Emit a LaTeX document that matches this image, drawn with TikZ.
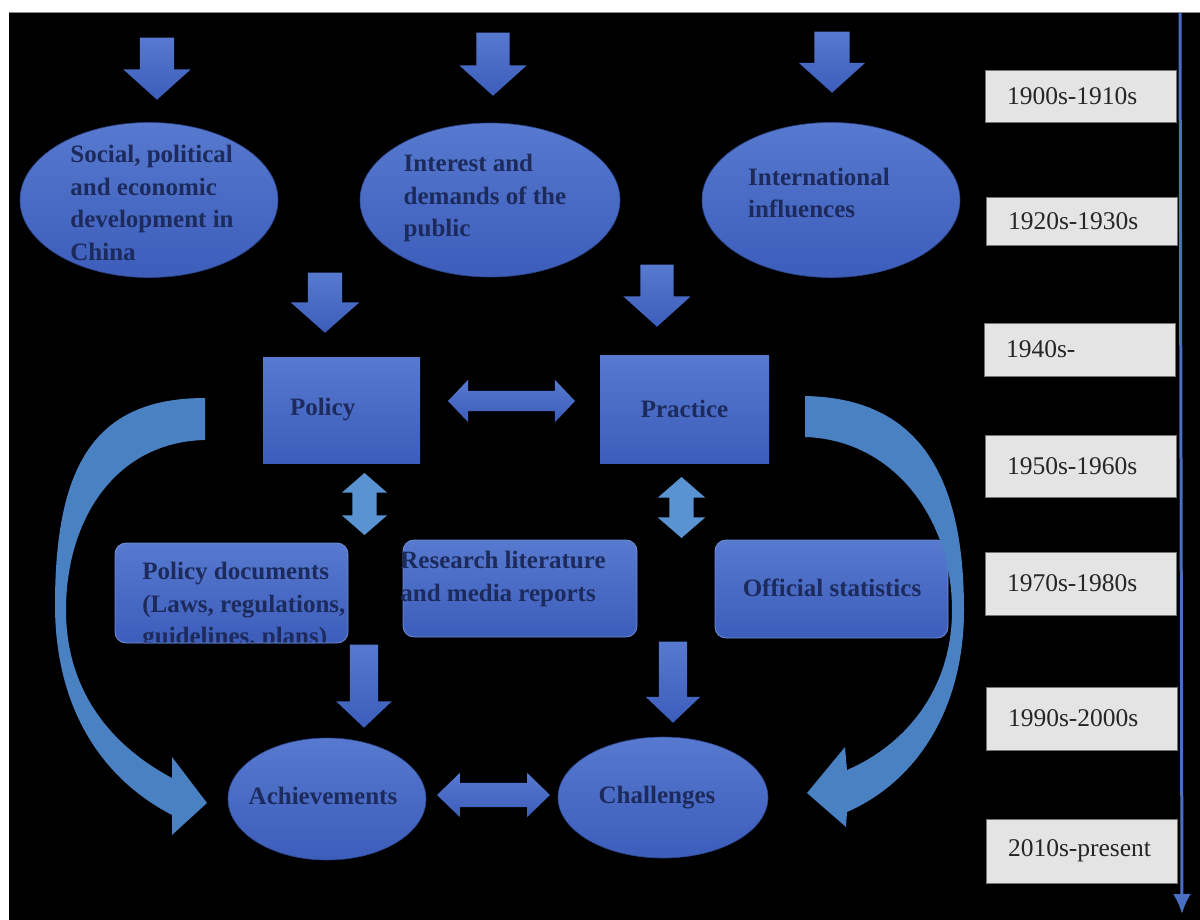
\documentclass[tikz,border=0pt]{standalone}
\usepackage{fontspec}
\setmainfont{Liberation Serif}
\usetikzlibrary{shapes.geometric,shapes.arrows,arrows.meta}

\definecolor{ink}{HTML}{1C2A5C}
\definecolor{bluetop}{HTML}{5779CF}
\definecolor{bluebot}{HTML}{3C5DBA}
\definecolor{steel}{HTML}{4A81C3}
\definecolor{pale}{HTML}{5A93D2}
\definecolor{datefill}{HTML}{E4E4E4}
\definecolor{datetext}{HTML}{262626}
\definecolor{timeline}{HTML}{4A6FC2}

\tikzset{
  shade blue/.style={top color=bluetop, bottom color=bluebot},
  oval/.style={ellipse, shade blue, draw=bluebot!75!black, line width=0.6pt, inner sep=0pt},
  panel/.style={rectangle, shade blue, inner sep=0pt},
  roundbox/.style={rectangle, rounded corners=11pt, shade blue, draw=bluetop!85!white, line width=0.8pt, inner sep=0pt},
  words/.style={font=\fontsize{25}{32.5}\selectfont\bfseries, text=ink, align=left, inner sep=0pt},
  era/.style={rectangle, fill=datefill, draw=black!55, line width=0.8pt, text width=147pt,
    inner xsep=22pt, inner ysep=0pt, align=left, font=\fontsize{25.5}{30}\selectfont, text=datetext},
  % downward block arrow: length, shaft width, head width, tip angle
  downblock/.style n args={4}{single arrow, shape border rotate=270, shade blue, anchor=tip,
    inner sep={#2/2}, single arrow head extend={(#3-#2)/2}, minimum width={#3},
    minimum height={#1}, single arrow tip angle={#4}},
  % two-headed block arrow: length, shaft width, head width, tip angle
  twoway/.style n args={4}{double arrow, inner sep={#2/2}, double arrow head extend={(#3-#2)/2},
    minimum width={#3}, minimum height={#1}, double arrow tip angle={#4}},
}

\begin{document}
\begin{tikzpicture}[x=1pt,y=-1pt]
\useasboundingbox (0,0) rectangle (1200,920);
\fill[white] (0,0) rectangle (1200,920);
\fill[black] (9,13) rectangle (1200,920);
\draw[black!45, line width=1pt] (9,13) -- (1200,13);

% incoming influences
\node[downblock={62}{34}{67}{96}] (in1) at (157,100) {};
\node[downblock={63}{33}{67}{96}] (in2) at (493,96) {};
\node[downblock={61}{35}{66}{96}] (in3) at (832,93) {};

\node[oval, minimum width=258pt, minimum height=155pt] (social) at (149,200) {};
\node[words] (socialtxt) at (152,203) {Social, political\\and economic\\development in\\China};
\node[oval, minimum width=260pt, minimum height=154pt] (public) at (490,200) {};
\node[words] (publictxt) at (485,198) {Interest and\\demands of the\\public};
\node[oval, minimum width=258pt, minimum height=155pt] (intl) at (831,200) {};
\node[words] (intltxt) at (819,193) {International\\influences};

% policy and practice
\node[downblock={60}{34}{68}{97}] (toPolicy) at (325,333) {};
\node[downblock={62}{33}{67}{96}] (toPractice) at (657,327) {};

\node[panel, minimum width=157pt, minimum height=106pt, text width=103pt, inner xsep=27pt,
  align=left, font=\fontsize{25}{30}\selectfont\bfseries, text=ink] (policy) at (341.5,410) {Policy};
\node[panel, minimum width=169pt, minimum height=108pt, align=center,
  font=\fontsize{25}{30}\selectfont\bfseries, text=ink] (practice) at (684.5,409) {Practice};

\node[twoway={127}{20}{42}{93}, shade blue] (pp) at (511.5,401) {};

\node[twoway={62}{24}{45}{98}, shape border rotate=90, fill=pale] (policyDocs) at (364.5,504) {};
\node[twoway={61}{24}{47}{98}, shape border rotate=90, fill=pale] (practiceDocs) at (681.5,507.5) {};

% sources
\node[roundbox, minimum width=233pt, minimum height=100pt,
  path picture={\node[words, anchor=north west] (pdoctxt)
    at ([shift={(12,13)}]path picture bounding box.north west)
    {Policy documents\\(Laws, regulations,\\guidelines, plans)};}] (pdoc) at (231.5,593) {};
\node[roundbox, minimum width=234pt, minimum height=97pt] (rlit) at (520,588.5) {};
\node[words] (rlittxt) at (503,579) {Research literature\\and media reports};
\node[roundbox, minimum width=233pt, minimum height=98pt] (ostat) at (831.5,589) {};
\node[words] (ostattxt) at (832,588) {Official statistics};

% outcomes
\node[downblock={83}{28}{55}{93}] (toAch) at (364,728) {};
\node[downblock={81}{28}{54}{93}] (toCha) at (673,723) {};

\node[oval, minimum width=198pt, minimum height=122pt] (ach) at (327,799) {};
\node[words] (achtxt) at (323,796) {Achievements};
\node[oval, minimum width=210pt, minimum height=121pt] (cha) at (663,797.5) {};
\node[words] (chatxt) at (657,798) {Challenges};

\node[twoway={113}{24}{44}{88}, shade blue] (ac) at (493.5,795) {};

% sweeping feedback arrows
\fill[steel] (205,398) .. controls (95,398) and (55,465) .. (55,605)
  .. controls (55,700) and (95,775) .. (172,815)
  -- (172,835) -- (207,803) -- (172,757) -- (172,778)
  .. controls (110,745) and (66,690) .. (66,610)
  .. controls (66,520) and (115,442) .. (205,440) -- cycle;
\fill[steel] (805,396) .. controls (915,398) and (964,470) .. (964,610)
  .. controls (964,705) and (920,780) .. (847,812)
  -- (846,827) -- (807,793) -- (845,747) -- (847,770)
  .. controls (905,745) and (952,690) .. (952,610)
  .. controls (952,520) and (895,440) .. (805,437) -- cycle;

% timeline
\node[era, minimum height=52pt] (d1) at (1080.5,96) {1900s-1910s};
\node[era, minimum height=48pt] (d2) at (1081.5,221) {1920s-1930s};
\node[era, minimum height=53pt] (d3) at (1079.5,349.5) {1940s-};
\node[era, minimum height=62pt] (d4) at (1080.5,466) {1950s-1960s};
\node[era, minimum height=63pt] (d5) at (1080.5,583.5) {1970s-1980s};
\node[era, minimum height=63pt] (d6) at (1081.5,718.5) {1990s-2000s};
\node[era, minimum height=64pt] (d7) at (1081.5,851) {2010s-present};

\coordinate (tltop) at (1180,13);
\coordinate (tlbot) at (1182,914);
\draw[timeline, line width=3pt, -{Latex[length=20pt,width=18pt]}] (tltop) -- (tlbot);
\end{tikzpicture}
\end{document}
